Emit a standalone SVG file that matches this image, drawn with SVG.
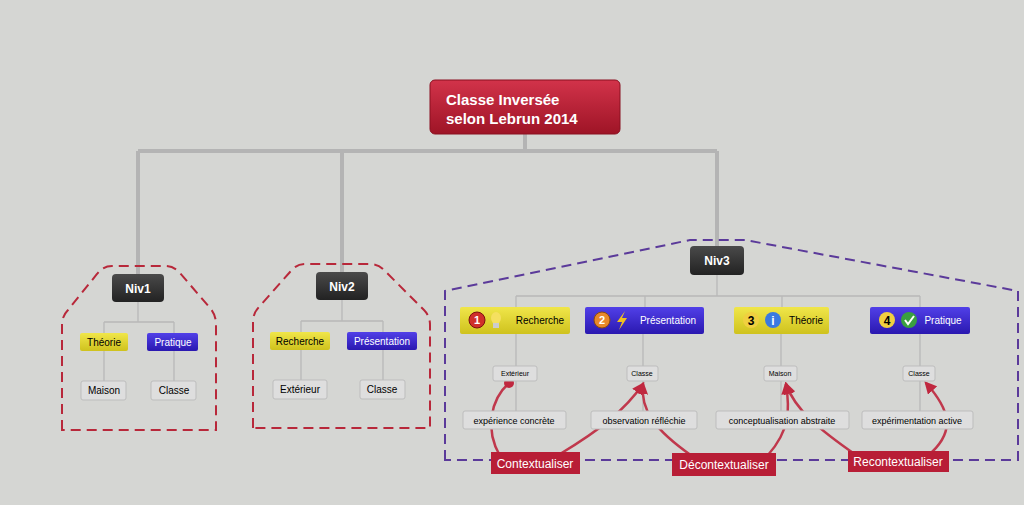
<svg xmlns="http://www.w3.org/2000/svg" width="1024" height="505" viewBox="0 0 1024 505">
<defs>
<linearGradient id="gRed" x1="0" y1="0" x2="0" y2="1"><stop offset="0" stop-color="#d2334a"/><stop offset="1" stop-color="#9e1426"/></linearGradient>
<linearGradient id="gDark" x1="0" y1="0" x2="0" y2="1"><stop offset="0" stop-color="#4a4a4a"/><stop offset="1" stop-color="#222"/></linearGradient>
<linearGradient id="gY" x1="0" y1="0" x2="0" y2="1"><stop offset="0" stop-color="#f0e64a"/><stop offset="1" stop-color="#cfc21d"/></linearGradient>
<linearGradient id="gB" x1="0" y1="0" x2="0" y2="1"><stop offset="0" stop-color="#5140e8"/><stop offset="1" stop-color="#2a18b0"/></linearGradient>
<marker id="arr" viewBox="0 0 10 10" refX="8" refY="5" markerWidth="5" markerHeight="5" orient="auto-start-reverse"><path d="M0,0L10,5L0,10z" fill="#c0283f"/></marker>
<marker id="dot" viewBox="0 0 10 10" refX="5" refY="5" markerWidth="4" markerHeight="4"><circle cx="5" cy="5" r="5" fill="#c0283f"/></marker>
</defs>
<style>
text{font-family:"Liberation Sans",Arial,sans-serif;text-anchor:middle}
.main{stroke:#b4b4b4;stroke-width:4;fill:none}
.thin{stroke:#b8b8b8;stroke-width:1.3;fill:none}
.frameR{stroke:#b8283a;stroke-width:2;stroke-dasharray:10 6;fill:none}
.frameP{stroke:#5b3a9a;stroke-width:2;stroke-dasharray:10 6;fill:none}
.rel{stroke:#c0384c;stroke-width:2.5;fill:none}
.dk{fill:url(#gDark)}
.y{fill:url(#gY)}
.b{fill:url(#gB)}
.leaf{fill:#dedede;stroke:#bdbdbd;stroke-width:1}
.lbl{fill:#b81e36}
.wt{fill:#fff;font-weight:bold}
</style>
<rect width="1024" height="505" fill="#d5d6d3"/>
<g id="connectors">
<path class="main" d="M525,134V151M138,151H717M138,151V274M342,151V272M717,151V246"/>
<path class="thin" d="M138,302V322M104,322H174M104,322V333M174,322V333M104,351V381M174,351V381"/>
<path class="thin" d="M342,300V321M301,321H383M301,321V332M383,321V332M301,350V380M383,350V380"/>
<path class="thin" d="M717,275V296M516,296H920M516,296V307M645,296V307M782,296V307M920,296V307M516,334V366M643,334V366M781,334V366M920,334V366M516,381V411M643,381V411M781,381V411M920,381V411"/>
<path class="rel" d="M500,456C485,430 490,400 509,383" marker-end="url(#dot)"/>
<path class="rel" d="M560,454C600,430 625,410 643,384" marker-end="url(#arr)"/>
<path class="rel" d="M692,456C655,430 640,410 643,384" marker-end="url(#arr)"/>
<path class="rel" d="M768,455C790,430 790,410 786,384" marker-end="url(#arr)"/>
<path class="rel" d="M856,455C820,430 795,410 786,384" marker-end="url(#arr)"/>
<path class="rel" d="M932,452C955,430 950,410 926,383" marker-end="url(#arr)"/>
</g>
<path class="frameR" d="M62,430V325Q62,316 68,310L97,274Q103,266 112,266H165Q174,266 180,273L210,308Q216,315 216,324V430Z"/>
<path class="frameR" d="M253,428V322Q253,313 259,307L290,272Q296,264 305,264H370Q379,264 385,271L424,310Q430,316 430,325V428Z"/>
<path class="frameP" d="M445,460V291L690,240H745L1018,291V460Z"/>
<g id="root"><rect x="430" y="80" width="190" height="54" rx="5" fill="url(#gRed)" stroke="#8a1020"/>
<text x="446" y="105" class="wt" font-size="15" style="text-anchor:start">Classe Inversée</text><text x="446" y="124" class="wt" font-size="15" style="text-anchor:start">selon Lebrun 2014</text></g>
<g id="niv1"><rect x="112" y="274" width="52" height="28" rx="4" class="dk"/><text x="138" y="293" class="wt" font-size="12">Niv1</text></g>
<g id="niv2"><rect x="316" y="272" width="52" height="28" rx="4" class="dk"/><text x="342" y="291" class="wt" font-size="12">Niv2</text></g>
<g id="niv3"><rect x="690" y="246" width="54" height="29" rx="4" class="dk"/><text x="717" y="265" class="wt" font-size="12">Niv3</text></g>
<g id="n1t"><rect x="80" y="333" width="48" height="18" rx="2" class="y"/><text x="104" y="346" font-size="10">Théorie</text></g>
<g id="n1p"><rect x="147" y="333" width="51" height="18" rx="2" class="b"/><text x="173" y="346" font-size="10" fill="#fff">Pratique</text></g>
<g id="n1m"><rect x="81" y="381" width="45" height="19" rx="2" class="leaf"/><text x="104" y="394" font-size="10">Maison</text></g>
<g id="n1c"><rect x="151" y="381" width="45" height="19" rx="2" class="leaf"/><text x="174" y="394" font-size="10">Classe</text></g>
<g id="n2r"><rect x="270" y="332" width="60" height="18" rx="2" class="y"/><text x="300" y="345" font-size="10">Recherche</text></g>
<g id="n2p"><rect x="347" y="332" width="70" height="18" rx="2" class="b"/><text x="382" y="345" font-size="10" fill="#fff">Présentation</text></g>
<g id="n2e"><rect x="273" y="380" width="54" height="19" rx="2" class="leaf"/><text x="300" y="393" font-size="10">Extérieur</text></g>
<g id="n2c"><rect x="360" y="380" width="45" height="19" rx="2" class="leaf"/><text x="382" y="393" font-size="10">Classe</text></g>
<g id="n3r"><rect x="460" y="307" width="110" height="27" rx="2" class="y"/>
<circle cx="477" cy="320" r="8" fill="#d0302a" stroke="#7a1010"/><text x="477" y="324" font-size="11" font-weight="bold" fill="#fff">1</text>
<ellipse cx="496" cy="318" rx="5" ry="6" fill="#f5e060"/><rect x="493" y="323" width="6" height="5" fill="#ccc"/>
<text x="540" y="324" font-size="10">Recherche</text></g>
<g id="n3p"><rect x="585" y="307" width="119" height="27" rx="2" class="b"/>
<circle cx="602" cy="320" r="8" fill="#e8882a" stroke="#8a4a10"/><text x="602" y="324" font-size="11" font-weight="bold" fill="#fff">2</text>
<path d="M625,311L617,322H622L619,330L627,318H622Z" fill="#f0c020"/>
<text x="668" y="324" font-size="10" fill="#fff">Présentation</text></g>
<g id="n3t"><rect x="734" y="307" width="95" height="27" rx="2" class="y"/>
<circle cx="751" cy="320" r="8" fill="#f0d040"/><text x="751" y="325" font-size="12" font-weight="bold">3</text>
<circle cx="773" cy="320" r="8" fill="#3a7ae0"/><text x="773" y="325" font-size="12" font-weight="bold" fill="#fff">i</text>
<text x="806" y="324" font-size="10">Théorie</text></g>
<g id="n3pr"><rect x="870" y="307" width="100" height="27" rx="2" class="b"/>
<circle cx="887" cy="320" r="8" fill="#f0d040"/><text x="887" y="325" font-size="12" font-weight="bold">4</text>
<circle cx="909" cy="320" r="8" fill="#3aa040"/><path d="M905,320L908,324L914,316" stroke="#fff" stroke-width="2" fill="none"/>
<text x="943" y="324" font-size="10" fill="#fff">Pratique</text></g>
<g id="s1"><rect x="493" y="366" width="44" height="15" rx="2" class="leaf"/><text x="515" y="376" font-size="7">Extérieur</text></g>
<g id="s2"><rect x="627" y="366" width="31" height="15" rx="2" class="leaf"/><text x="642" y="376" font-size="7">Classe</text></g>
<g id="s3"><rect x="764" y="366" width="33" height="15" rx="2" class="leaf"/><text x="780" y="376" font-size="7">Maison</text></g>
<g id="s4"><rect x="903" y="366" width="32" height="15" rx="2" class="leaf"/><text x="919" y="376" font-size="7">Classe</text></g>
<g id="e1"><rect x="463" y="411" width="103" height="18" rx="2" class="leaf"/><text x="514" y="424" font-size="9">expérience concrète</text></g>
<g id="e2"><rect x="591" y="411" width="106" height="18" rx="2" class="leaf"/><text x="644" y="424" font-size="9">observation réfléchie</text></g>
<g id="e3"><rect x="716" y="411" width="133" height="18" rx="2" class="leaf"/><text x="782" y="424" font-size="9">conceptualisation abstraite</text></g>
<g id="e4"><rect x="862" y="411" width="111" height="18" rx="2" class="leaf"/><text x="917" y="424" font-size="9">expérimentation active</text></g>
<g id="l1"><rect x="491" y="452" width="89" height="22" class="lbl"/><text x="535" y="468" font-size="12" fill="#fff">Contextualiser</text></g>
<g id="l2"><rect x="672" y="453" width="104" height="23" class="lbl"/><text x="724" y="469" font-size="12" fill="#fff">Décontextualiser</text></g>
<g id="l3"><rect x="848" y="451" width="101" height="21" class="lbl"/><text x="898" y="466" font-size="12" fill="#fff">Recontextualiser</text></g>
</svg>
